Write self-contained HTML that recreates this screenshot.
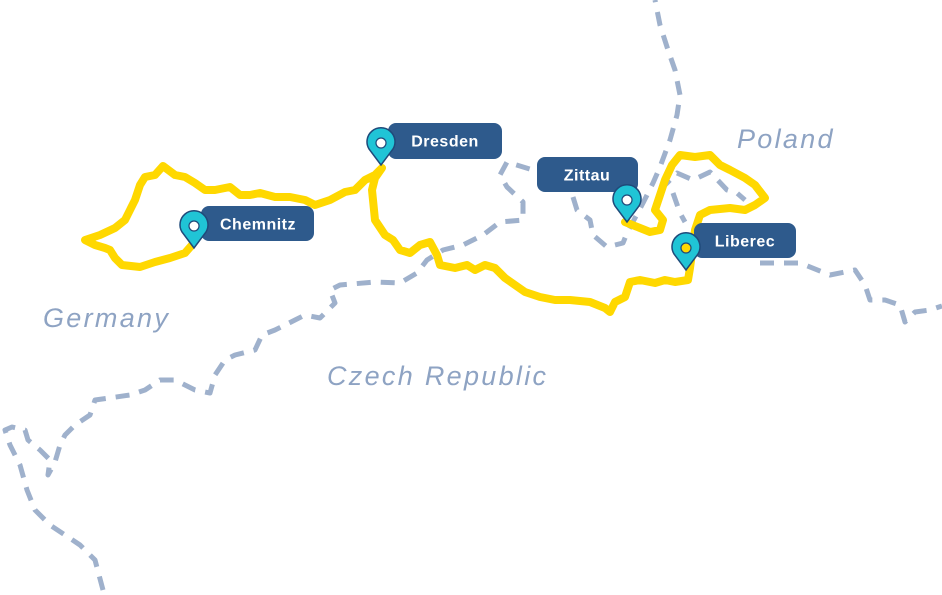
<!DOCTYPE html>
<html><head><meta charset="utf-8"><style>
html,body{margin:0;padding:0;background:#fff;}
svg{display:block;}
.b{fill:none;stroke:#9fb1cc;stroke-width:5;stroke-dasharray:14 10;stroke-linejoin:round}
.r{fill:none;stroke:#ffd800;stroke-width:8;stroke-linejoin:round;stroke-linecap:round}
.c{font-family:"Liberation Sans",sans-serif;font-style:italic;font-size:27px;fill:#8ea3c3;letter-spacing:2.3px}
.l{font-family:"Liberation Sans",sans-serif;font-weight:bold;font-size:16px;fill:#fff;letter-spacing:0.5px}
.box{fill:#2e5a8c}
.pin{fill:#20c4d6;stroke:#1f4a7a;stroke-width:1.5}
</style></head><body>
<svg width="942" height="595" viewBox="0 0 942 595">
<polyline class="b" points="103,590 95,560 80,545 65,535 50,525 35,510 27,490 20,465 10,445 5,430 12,427 25,430 28,440 40,450 50,460 48,475 55,462 60,445 65,435 75,425 90,415 95,400 130,395 145,390 160,380 175,380 195,390 210,393 215,375 225,360 235,355 255,350 262,335 275,330 295,320 305,315 320,318 335,303 330,290 340,285 375,282 400,283 417,273 427,260 443,250 463,245 483,235 500,222 523,220 523,202 507,187 500,175 507,162 533,170"/>
<polyline class="b" points="573,197 577,210 590,220 593,235 607,247 623,243 627,233 643,203 653,183 660,167 670,140 677,115 680,95 675,70 668,50 660,25 655,0"/>
<polyline class="b" points="660,190 677,173 693,180 710,172 727,190 737,193 745,200"/>
<polyline class="b" points="673,193 680,213 685,222"/>
<polyline class="b" points="760,263 800,263 830,275 855,270 865,285 870,300 885,300 900,305 905,322 915,312 930,310 942,306"/>
<polyline class="r" points="192,245 185,253 170,258 155,262 140,267 122,265 115,258 110,250 105,248 95,245 85,240 100,235 115,228 125,220 130,210 135,200 140,185 145,177 155,175 163,166 175,175 185,177 195,183 205,190 215,190 230,187 240,195 250,195 260,193 275,197 290,197 305,200 315,205 330,200 345,192 355,190 365,180 375,175 382,168 375,178 372,190 375,220 385,235 393,240 400,250 410,253 420,245 430,242 437,255 440,265 455,268 467,265 475,270 485,265 495,268 505,278 515,285 525,292 540,297 555,300 570,300 590,302 605,308 610,312 615,302 625,297 630,282 640,280 655,283 665,280 675,282 688,280 690,268 695,230 700,215 710,210 730,208 745,210 755,205 765,198 755,185 745,178 730,170 720,165 710,155 695,157 680,155 672,165 665,180 660,195 655,210 663,220 660,230 650,232 640,228 625,222"/>
<text class="c" x="43" y="327">Germany</text>
<text class="c" x="737" y="148">Poland</text>
<text class="c" x="327" y="385">Czech Republic</text>
<rect class="box" x="388" y="123" width="114" height="36" rx="8"/>
<text class="l" x="445" y="146.5" text-anchor="middle">Dresden</text>
<rect class="box" x="537" y="157" width="101" height="35" rx="8"/>
<text class="l" x="587" y="180.5" text-anchor="middle">Zittau</text>
<rect class="box" x="201" y="206" width="113" height="35" rx="8"/>
<text class="l" x="258" y="229.5" text-anchor="middle">Chemnitz</text>
<rect class="box" x="694" y="223" width="102" height="35" rx="8"/>
<text class="l" x="745" y="246.5" text-anchor="middle">Liberec</text>
<g transform="translate(381,143)"><path class="pin" d="M0,22 L-12,6 A14,14 0 1 1 12,6 Z"/><circle r="5" fill="#fff" stroke="#1f4a7a" stroke-width="1.2"/></g>
<g transform="translate(627,200)"><path class="pin" d="M0,22 L-12,6 A14,14 0 1 1 12,6 Z"/><circle r="5" fill="#fff" stroke="#1f4a7a" stroke-width="1.2"/></g>
<g transform="translate(194,226)"><path class="pin" d="M0,22 L-12,6 A14,14 0 1 1 12,6 Z"/><circle r="5" fill="#fff" stroke="#1f4a7a" stroke-width="1.2"/></g>
<g transform="translate(686,248)"><path class="pin" d="M0,22 L-12,6 A14,14 0 1 1 12,6 Z"/><circle r="5" fill="#ffd800" stroke="#1f4a7a" stroke-width="1.2"/></g>
</svg>
</body></html>
